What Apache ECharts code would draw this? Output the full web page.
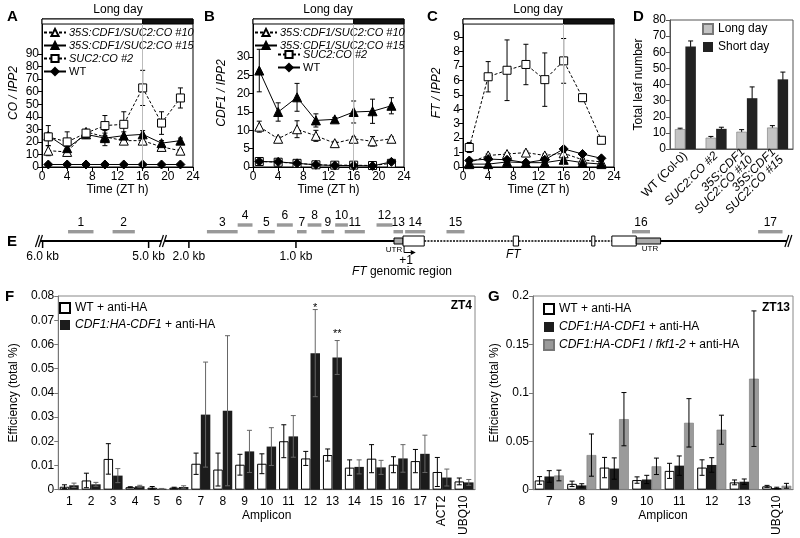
<!DOCTYPE html>
<html>
<head>
<meta charset="utf-8">
<script src="https://cdn.jsdelivr.net/npm/echarts@6/dist/echarts.min.js"></script>
<style>
html, body { margin: 0; padding: 0; background: #fff; }
#chart { width: 800px; height: 538px; }
</style>
</head>
<body>
<div id="chart"></div>
<script>
const FONT = 'Liberation Sans, Arial, sans-serif';

// ---- A-C: time course (ZT h) ----
const times = [1, 4, 7, 10, 13, 16, 19, 22];
const lineNames = ['35S:CDF1/SUC2:CO #10', '35S:CDF1/SUC2:CO #15', 'SUC2:CO #2', 'WT'];

// A: CO / IPP2
const coL10 = [13, 12, 28, 24, 21, 21, 16, 13];
const coL10Err = [4, 2, 2, 3, 2, 2, 2, 1];
const coL15 = [25, 15, 26, 23, 25, 26, 19, 21];
const coL15Err = [8, 3, 3, 6, 3, 3, 2, 2];
const coSuc = [24, 20, 27, 33, 34, 63, 35, 55];
const coSucErr = [3, 8, 2, 8, 10, 14, 9, 8];
const coWT = [2, 2, 2, 2, 2, 2, 2, 2];
const coWTErr = [0.5, 0.5, 0.5, 0.5, 0.5, 0.5, 0.5, 0.5];
const coTicks = [0, 10, 20, 30, 40, 50, 60, 70, 80, 90];

// B: CDF1 / IPP2
const cdfL10 = [11, 7.7, 10.3, 8.5, 6.5, 7.7, 7, 7.7];
const cdfL10Err = [1.5, 0.5, 2.3, 1.5, 0.5, 0.5, 1.3, 0.5];
const cdfL15 = [26.3, 15, 19, 12.7, 13, 15, 15.2, 16.7];
const cdfL15Err = [5.8, 2.5, 3.8, 1.8, 0.5, 3, 3.3, 2.2];
const cdfSuc = [1.5, 1.3, 1.0, 0.6, 0.5, 0.5, 0.4, 1.0];
const cdfSucErr = [0.3, 0.3, 0.3, 0.2, 0.2, 0.2, 0.2, 0.3];
const cdfWT = [1.5, 1.4, 1.0, 0.6, 0.4, 0.4, 0.3, 1.4];
const cdfWTErr = [0.3, 0.3, 0.2, 0.2, 0.2, 0.2, 0.2, 0.3];
const cdfTicks = [0, 5, 10, 15, 20, 25, 30];

// C: FT / IPP2
const ftL10 = [0.3, 0.8, 0.9, 1.0, 0.8, 0.95, 0.5, 0.35];
const ftL10Err = [0.1, 0.1, 0.1, 0.1, 0.1, 0.1, 0.1, 0.1];
const ftL15 = [0.2, 0.2, 0.35, 0.3, 0.3, 0.5, 0.3, 0.2];
const ftL15Err = [0.05, 0.05, 0.05, 0.05, 0.05, 0.05, 0.05, 0.05];
const ftSuc = [1.35, 6.25, 6.7, 7.1, 6.05, 7.35, 4.8, 1.85];
const ftSucErr = [0.35, 1.05, 2.1, 1.4, 1.85, 1.55, 0.25, 0.1];
const ftWT = [0.45, 0.55, 0.5, 0.3, 0.5, 1.25, 0.9, 0.6];
const ftWTErr = [0.1, 0.1, 0.1, 0.1, 0.1, 0.15, 0.1, 0.1];
const ftTicks = [0, 1, 2, 3, 4, 5, 6, 7, 8, 9];

// D: total leaf number
const dCats = ['WT (Col-0)', 'SUC2:CO #2', '35S:CDF1\nSUC2:CO #10', '35S:CDF1\nSUC2:CO #15'];
const ldVals = [12.3, 7, 10.7, 13.3];
const ldErr = [0.6, 0.8, 1.3, 1.2];
const sdVals = [63.5, 12.5, 31.5, 43.2];
const sdErr = [3.5, 1, 7, 4.5];

// E: FT genomic region, positions in drawn kb relative to +1 (upstream part shifted at the break)
const geneLine = [[-3.43, -0.085, 1], [0.2, 1.04, 0], [1.09, 1.78, 0], [1.81, 1.97, 0], [2.43, 3.64, 1]];
const geneBoxes = [[-0.085, 0, 0], [0, 0.2, 1], [1.04, 1.09, 1], [1.78, 1.81, 1], [1.97, 2.2, 1], [2.2, 2.43, 0]];
const geneBreaks = [-3.43, -2.26, 3.64];
const kbTicks = [-3.4, -2.4, -2.02, -1.01];
const kbLabels = ['6.0 kb', '5.0 kb', '2.0 kb', '1.0 kb'];
const ampStart = [-3.16, -2.74, -1.85, -1.56, -1.37, -1.19, -1.0, -0.90, -0.77, -0.64, -0.55, -0.25, -0.09, 0.02, 0.41, 2.16, 3.35];
const ampEnd = [-2.92, -2.53, -1.56, -1.42, -1.21, -1.04, -0.91, -0.77, -0.65, -0.52, -0.36, -0.10, 0, 0.21, 0.58, 2.33, 3.58];
const ampRow = [1, 1, 1, 2, 1, 2, 1, 2, 1, 2, 1, 2, 1, 1, 1, 1, 1];
const eNotes = [
  [-0.085, -0.85, 'UTR', 8],
  [2.33, -0.75, 'UTR', 8],
  [0.03, -1.95, '+1', 12],
  [1.04, -1.4, '{i|FT}', 12],
  [-0.01, -3.1, '{i|FT} genomic region', 12]
];

// F: ChIP ZT4
const fCats = ['1', '2', '3', '4', '5', '6', '7', '8', '9', '10', '11', '12', '13', '14', '15', '16', '17', 'ACT2', 'UBQ10'];
const fWT = [0.0012, 0.0038, 0.0127, 0.001, 0.0008, 0.0008, 0.0107, 0.0083, 0.0103, 0.0107, 0.02, 0.0129, 0.0143, 0.0091, 0.0128, 0.0103, 0.0118, 0.0073, 0.0034];
const fWTErr = [0.0008, 0.003, 0.0063, 0.0002, 0.0005, 0.0002, 0.0044, 0.0068, 0.0043, 0.0041, 0.0068, 0.0029, 0.0025, 0.0032, 0.0058, 0.0033, 0.0048, 0.006, 0.0014];
const fCDF = [0.0018, 0.0022, 0.0058, 0.0014, 0.0004, 0.0011, 0.031, 0.0326, 0.0158, 0.0178, 0.022, 0.0564, 0.0546, 0.0094, 0.0092, 0.0129, 0.0148, 0.005, 0.003];
const fCDFErr = [0.0009, 0.0008, 0.0029, 0.0004, 0.0001, 0.0005, 0.0217, 0.031, 0.0087, 0.0078, 0.0086, 0.018, 0.007, 0.0029, 0.0029, 0.0057, 0.0077, 0.0035, 0.0012];
const fStars = [[11, 0.0752, '*'], [12, 0.0642, '**']];

// G: ChIP ZT13
const gCats = ['7', '8', '9', '10', '11', '12', '13', 'UBQ10'];
const gWT = [0.0095, 0.006, 0.0228, 0.0099, 0.0194, 0.0228, 0.0075, 0.0034];
const gWTErr = [0.004, 0.0028, 0.0105, 0.0033, 0.0078, 0.008, 0.0025, 0.001];
const gCDF = [0.0136, 0.0044, 0.0218, 0.0105, 0.0248, 0.0255, 0.0082, 0.0017];
const gCDFErr = [0.006, 0.0017, 0.011, 0.0043, 0.01, 0.0075, 0.0028, 0.0008];
const gFkf = [0.0146, 0.0357, 0.0728, 0.0241, 0.069, 0.0619, 0.1146, 0.004];
const gFkfErr = [0.0055, 0.0218, 0.0275, 0.0085, 0.025, 0.015, 0.07, 0.0025];

const chart = echarts.init(document.getElementById('chart'));

const lineLook = {
  '35S:CDF1/SUC2:CO #10': { symbol: 'triangle', size: 9, fill: '#fff', dash: [3, 2] },
  '35S:CDF1/SUC2:CO #15': { symbol: 'triangle', size: 9, fill: '#000', dash: 'solid' },
  'SUC2:CO #2': { symbol: 'rect', size: 8, fill: '#fff', dash: [3, 2] },
  'WT': { symbol: 'diamond', size: 9, fill: '#000', dash: 'solid' }
};

function lineSer(g, name, vals) {
  const st = lineLook[name];
  return {
    type: 'line', name, xAxisIndex: g, yAxisIndex: g,
    data: times.map((t, k) => [t, vals[k]]),
    symbol: st.symbol, symbolSize: st.size, showAllSymbol: true,
    itemStyle: { color: st.fill, borderColor: '#000', borderWidth: 1 },
    lineStyle: { color: '#000', width: 1, type: st.dash },
    emphasis: { disabled: true }, z: 3
  };
}

function errSer(xi, yi, data, offset, cap, color) {
  return {
    type: 'custom', xAxisIndex: xi, yAxisIndex: yi, data, silent: true, z: 2,
    renderItem: (params, api) => {
      const lo = api.coord([api.value(0), api.value(1)]);
      const hi = api.coord([api.value(0), api.value(2)]);
      const x = lo[0] + offset;
      const st = { stroke: color, lineWidth: 1 };
      return {
        type: 'group', children: [
          { type: 'line', shape: { x1: x, y1: lo[1], x2: x, y2: hi[1] }, style: st },
          { type: 'line', shape: { x1: x - cap, y1: lo[1], x2: x + cap, y2: lo[1] }, style: st },
          { type: 'line', shape: { x1: x - cap, y1: hi[1], x2: x + cap, y2: hi[1] }, style: st }
        ]
      };
    }
  };
}

const timeErr = (vals, errs) => times.map((t, k) => [t, vals[k] - errs[k], vals[k] + errs[k]]);
const catErr = (vals, errs) => vals.map((v, k) => [k, Math.max(0, v - errs[k]), v + errs[k]]);

const tickFont = { color: '#000', fontSize: 12, fontFamily: FONT };
const nameFont = { color: '#000', fontSize: 12, fontFamily: FONT };
const blackAxis = { lineStyle: { color: '#000', width: 1 } };

// time-course panels
const tc = [
  { g: 0, left: 42, yName: 'CO / IPP2', yGap: 22, max: 117.9, barLo: 113.9, ticks: coTicks, interval: 10,
    vals: [coL10, coL15, coSuc, coWT], errs: [coL10Err, coL15Err, coSucErr, coWTErr] },
  { g: 1, left: 253, yName: 'CDF1 / IPP2', yGap: 25, max: 40.36, barLo: 39.0, ticks: cdfTicks, interval: 5,
    vals: [cdfL10, cdfL15, cdfSuc, cdfWT], errs: [cdfL10Err, cdfL15Err, cdfSucErr, cdfWTErr] },
  { g: 2, left: 463, yName: 'FT / IPP2', yGap: 20, max: 10.25, barLo: 9.9, ticks: ftTicks, interval: 1,
    vals: [ftL10, ftL15, ftSuc, ftWT], errs: [ftL10Err, ftL15Err, ftSucErr, ftWTErr] }
];

const grids = [];
const xAxes = [];
const yAxes = [];
const series = [];

tc.forEach(p => {
  grids.push({ left: p.left, top: 19, width: 151, height: 148, show: true, borderColor: '#000', borderWidth: 1, backgroundColor: 'transparent' });
  xAxes.push({
    gridIndex: p.g, type: 'value', min: 0, max: 24, interval: 4,
    axisLine: blackAxis, axisTick: { length: 4, lineStyle: { color: '#000' } },
    axisLabel: Object.assign({ margin: 4 }, tickFont), splitLine: { show: false },
    name: 'Time (ZT h)', nameLocation: 'middle', nameGap: 17, nameTextStyle: nameFont
  });
  yAxes.push({
    gridIndex: p.g, type: 'value', min: 0, max: p.max, interval: p.interval,
    axisLine: { show: true, lineStyle: { color: '#000' } },
    axisTick: { show: true, length: 4, lineStyle: { color: '#000' }, customValues: p.ticks },
    axisLabel: Object.assign({ margin: 3, customValues: p.ticks, formatter: v => v > p.ticks[p.ticks.length - 1] ? '' : v }, tickFont),
    splitLine: { show: false },
    name: p.yName, nameLocation: 'middle', nameGap: p.yGap,
    nameTextStyle: Object.assign({ fontStyle: 'italic' }, nameFont)
  });
  lineNames.forEach((n, k) => {
    series.push(errSer(p.g, p.g, timeErr(p.vals[k], p.errs[k]), 0, 2.5, '#000'));
  });
  lineNames.forEach((n, k) => {
    const s = lineSer(p.g, n, p.vals[k]);
    if (n === 'WT') {
      s.markArea = {
        silent: true,
        data: [
          [{ coord: [0, p.barLo], itemStyle: { color: '#fff', borderColor: '#000', borderWidth: 1 } }, { coord: [16, p.max] }],
          [{ coord: [16, p.barLo], itemStyle: { color: '#111', borderColor: '#000', borderWidth: 1 } }, { coord: [24, p.max] }]
        ]
      };
      s.markLine = {
        silent: true, symbol: 'none', label: { show: false },
        lineStyle: { color: '#bbb', width: 1, type: 'solid' },
        data: [[{ coord: [16, 0] }, { coord: [16, p.barLo] }]]
      };
    }
    series.push(s);
  });
});

// D
grids.push({ left: 670, top: 20, width: 123, height: 129, show: true, borderColor: '#555', borderWidth: 1, backgroundColor: 'transparent' });
xAxes.push({
  gridIndex: 3, type: 'category', data: dCats,
  axisLine: { lineStyle: { color: '#555' } }, axisTick: { length: 4, lineStyle: { color: '#555' } },
  axisLabel: {
    interval: 0, rotate: 45, margin: 5, color: '#000', fontSize: 12, fontFamily: FONT, lineHeight: 11,
    formatter: v => v.startsWith('WT') ? v : v.split('\n').map(s => '{i|' + s + '}').join('\n'),
    rich: { i: { fontStyle: 'italic', fontSize: 12, fontFamily: FONT, color: '#000', lineHeight: 11 } }
  }
});
yAxes.push({
  gridIndex: 3, type: 'value', min: 0, max: 80, interval: 10,
  axisLine: { show: true, lineStyle: { color: '#555' } }, axisTick: { show: true, length: 4, lineStyle: { color: '#555' } },
  axisLabel: Object.assign({ margin: 4 }, tickFont), splitLine: { show: false },
  name: 'Total leaf number', nameLocation: 'middle', nameGap: 25, nameTextStyle: nameFont
});
series.push({ type: 'bar', name: 'Long day', xAxisIndex: 3, yAxisIndex: 3, data: ldVals, barWidth: 10.5, barGap: '0%',
  itemStyle: { color: '#c4c4c4', borderColor: '#777', borderWidth: 0.6 }, emphasis: { disabled: true } });
series.push({ type: 'bar', name: 'Short day', xAxisIndex: 3, yAxisIndex: 3, data: sdVals, barWidth: 10.5, barGap: '0%',
  itemStyle: { color: '#222' }, emphasis: { disabled: true } });
series.push(errSer(3, 3, catErr(ldVals, ldErr), -5.25, 2.5, '#000'));
series.push(errSer(3, 3, catErr(sdVals, sdErr), 5.25, 2.5, '#000'));

// E (hidden axes: x in drawn kb, y in 10 px rows)
grids.push({ left: 0, top: 211, width: 800, height: 90 });
xAxes.push({ gridIndex: 4, type: 'value', min: -3.802, max: 3.745, show: false });
yAxes.push({ gridIndex: 4, type: 'value', min: -6, max: 3, show: false });
const eBase = { type: 'custom', xAxisIndex: 4, yAxisIndex: 4, silent: true };
series.push(Object.assign({}, eBase, {
  data: geneLine, z: 2,
  renderItem: (params, api) => {
    const a = api.coord([api.value(0), 0]);
    const b = api.coord([api.value(1), 0]);
    const solid = api.value(2) === 1;
    return { type: 'line', shape: { x1: a[0], y1: a[1], x2: b[0], y2: b[1] },
      style: { stroke: '#000', lineWidth: solid ? 2 : 1.3, lineDash: solid ? null : [2, 1.2] } };
  }
}));
series.push(Object.assign({}, eBase, {
  data: geneBoxes, z: 3,
  renderItem: (params, api) => {
    const a = api.coord([api.value(0), 0]);
    const b = api.coord([api.value(1), 0]);
    const exon = api.value(2) === 1;
    const h = exon ? 10 : 6;
    return { type: 'rect', shape: { x: a[0], y: a[1] - h / 2, width: b[0] - a[0], height: h },
      style: { fill: exon ? '#fff' : '#aaa', stroke: '#000', lineWidth: 1 } };
  }
}));
series.push(Object.assign({}, eBase, {
  data: geneBreaks.map(x => [x]), z: 4,
  renderItem: (params, api) => {
    const p = api.coord([api.value(0), 0]);
    const x = p[0], y = p[1];
    return { type: 'group', children: [
      { type: 'polygon', shape: { points: [[x - 4, y + 6], [x, y - 6], [x + 3, y - 6], [x - 1, y + 6]] }, style: { fill: '#fff' } },
      { type: 'line', shape: { x1: x - 4, y1: y + 6, x2: x, y2: y - 6 }, style: { stroke: '#000', lineWidth: 1.2 } },
      { type: 'line', shape: { x1: x - 1, y1: y + 6, x2: x + 3, y2: y - 6 }, style: { stroke: '#000', lineWidth: 1.2 } }
    ] };
  }
}));
series.push(Object.assign({}, eBase, {
  data: kbTicks.map(x => [x]), z: 3,
  renderItem: (params, api) => {
    const p = api.coord([api.value(0), 0]);
    const t = api.coord([api.value(0), -1.6]);
    return { type: 'group', children: [
      { type: 'line', shape: { x1: p[0], y1: p[1], x2: p[0], y2: p[1] + 7 }, style: { stroke: '#000', lineWidth: 1.5 } },
      { type: 'text', x: t[0], y: t[1], style: { text: kbLabels[params.dataIndex], font: '12px ' + FONT, fill: '#000', align: 'center', verticalAlign: 'middle' } }
    ] };
  }
}));
series.push(Object.assign({}, eBase, {
  data: ampStart.map((s, k) => [s, ampEnd[k], ampRow[k]]), z: 3,
  renderItem: (params, api) => {
    const row = api.value(2);
    const yv = row === 2 ? 1.6 : 0.93;
    const a = api.coord([api.value(0), yv]);
    const b = api.coord([api.value(1), yv]);
    return { type: 'group', children: [
      { type: 'rect', shape: { x: a[0], y: a[1] - 1.7, width: b[0] - a[0], height: 3.4 }, style: { fill: '#999' } },
      { type: 'text', x: (a[0] + b[0]) / 2, y: a[1] - 9, style: { text: String(params.dataIndex + 1), font: '12px ' + FONT, fill: '#000', align: 'center', verticalAlign: 'middle' } }
    ] };
  }
}));
series.push(Object.assign({}, eBase, {
  data: eNotes.map(n => [n[0], n[1]]), z: 3,
  renderItem: (params, api) => {
    const n = eNotes[params.dataIndex];
    const p = api.coord([api.value(0), api.value(1)]);
    return { type: 'text', x: p[0], y: p[1], style: { text: n[2], font: n[3] + 'px ' + FONT, fill: '#000', align: 'center', verticalAlign: 'middle',
      rich: { i: { fontStyle: 'italic', fontSize: n[3], fontFamily: FONT, fill: '#000' } } } };
  }
}));
series.push(Object.assign({}, eBase, {
  data: [[0.01, -0.5, -1.15, 0.12]], z: 3,
  renderItem: (params, api) => {
    const a = api.coord([api.value(0), api.value(1)]);
    const b = api.coord([api.value(0), api.value(2)]);
    const c = api.coord([api.value(3), api.value(2)]);
    return { type: 'group', children: [
      { type: 'polyline', shape: { points: [a, b, [c[0] - 3, c[1]]] }, style: { stroke: '#000', lineWidth: 1, fill: null } },
      { type: 'polygon', shape: { points: [[c[0], c[1]], [c[0] - 5, c[1] - 2.5], [c[0] - 5, c[1] + 2.5]] }, style: { fill: '#000' } }
    ] };
  }
}));

// F
const greyAxis = { lineStyle: { color: '#777', width: 1 } };
grids.push({ left: 51, top: 296, width: 424, height: 196, show: true, borderColor: '#888', borderWidth: 1, backgroundColor: 'transparent' });
xAxes.push({
  gridIndex: 5, type: 'category', data: fCats, position: 'bottom',
  axisLine: greyAxis, axisTick: { length: 4, lineStyle: { color: '#777' } },
  axisLabel: Object.assign({ interval: 0, margin: 6, formatter: v => (v === 'ACT2' || v === 'UBQ10') ? '' : v }, tickFont),
  name: 'Amplicon', nameLocation: 'middle', nameGap: 20, nameTextStyle: nameFont
});
xAxes.push({
  gridIndex: 5, type: 'category', data: fCats, position: 'bottom', offset: 0,
  axisLine: { show: false }, axisTick: { show: false },
  axisLabel: Object.assign({ interval: 0, rotate: 90, margin: 6, formatter: v => (v === 'ACT2' || v === 'UBQ10') ? v : '' }, tickFont)
});
const effFmt = v => v === 0 ? '0' : String(+v.toFixed(3));
yAxes.push({
  gridIndex: 5, type: 'value', min: 0, max: 0.08, interval: 0.01,
  axisLine: { show: true, lineStyle: { color: '#777' } }, axisTick: { show: true, length: 4, lineStyle: { color: '#777' } },
  axisLabel: Object.assign({ margin: 4, formatter: effFmt }, tickFont), splitLine: { show: false },
  name: 'Efficiency (total %)', nameLocation: 'middle', nameGap: 33, nameTextStyle: nameFont
});
series.push({ type: 'bar', name: 'WT + anti-HA', xAxisIndex: 5, yAxisIndex: 5, data: fWT, barWidth: 9.5, barGap: '0%',
  itemStyle: { color: '#fff', borderColor: '#000', borderWidth: 1 }, emphasis: { disabled: true } });
series.push({ type: 'bar', name: 'CDF1:HA-CDF1 + anti-HA', xAxisIndex: 5, yAxisIndex: 5, data: fCDF, barWidth: 9.5, barGap: '0%',
  itemStyle: { color: '#1c1c1c' }, emphasis: { disabled: true } });
series.push(Object.assign(errSer(5, 5, catErr(fWT, fWTErr), -4.75, 2.5, '#000'), { z: 3 }));
series.push(Object.assign(errSer(5, 5, catErr(fCDF, fCDFErr), 4.75, 2.5, '#666'), { z: 3 }));
series.push({
  type: 'custom', xAxisIndex: 5, yAxisIndex: 5, silent: true, z: 4,
  data: fStars.map(s => [s[0], s[1]]),
  renderItem: (params, api) => {
    const p = api.coord([api.value(0), api.value(1)]);
    return { type: 'text', x: p[0] + 4.75, y: p[1], style: { text: fStars[params.dataIndex][2], font: '11px ' + FONT, fill: '#000', align: 'center', verticalAlign: 'middle' } };
  }
});

// G
grids.push({ left: 533, top: 296, width: 260, height: 196, show: true, borderColor: '#888', borderWidth: 1, backgroundColor: 'transparent' });
xAxes.push({
  gridIndex: 6, type: 'category', data: gCats, position: 'bottom',
  axisLine: greyAxis, axisTick: { length: 4, lineStyle: { color: '#777' } },
  axisLabel: Object.assign({ interval: 0, margin: 6, formatter: v => v === 'UBQ10' ? '' : v }, tickFont),
  name: 'Amplicon', nameLocation: 'middle', nameGap: 20, nameTextStyle: nameFont
});
xAxes.push({
  gridIndex: 6, type: 'category', data: gCats, position: 'bottom', offset: 0,
  axisLine: { show: false }, axisTick: { show: false },
  axisLabel: Object.assign({ interval: 0, rotate: 90, margin: 6, formatter: v => v === 'UBQ10' ? v : '' }, tickFont)
});
yAxes.push({
  gridIndex: 6, type: 'value', min: 0, max: 0.2, interval: 0.05,
  axisLine: { show: true, lineStyle: { color: '#777' } }, axisTick: { show: true, length: 4, lineStyle: { color: '#777' } },
  axisLabel: Object.assign({ margin: 4, formatter: effFmt }, tickFont), splitLine: { show: false },
  name: 'Efficiency (total %)', nameLocation: 'middle', nameGap: 32, nameTextStyle: nameFont
});
series.push({ type: 'bar', name: 'WT + anti-HA', xAxisIndex: 7, yAxisIndex: 6, data: gWT, barWidth: 9.7, barGap: '0%',
  itemStyle: { color: '#fff', borderColor: '#000', borderWidth: 1 }, emphasis: { disabled: true } });
series.push({ type: 'bar', name: 'CDF1:HA-CDF1 + anti-HA', xAxisIndex: 7, yAxisIndex: 6, data: gCDF, barWidth: 9.7, barGap: '0%',
  itemStyle: { color: '#1c1c1c' }, emphasis: { disabled: true } });
series.push({ type: 'bar', name: 'CDF1:HA-CDF1 / fkf1-2 + anti-HA', xAxisIndex: 7, yAxisIndex: 6, data: gFkf, barWidth: 9.7, barGap: '0%',
  itemStyle: { color: '#9a9a9a', borderColor: '#777', borderWidth: 0.6 }, emphasis: { disabled: true } });
series.push(Object.assign(errSer(7, 6, catErr(gWT, gWTErr), -9.7, 2.5, '#000'), { z: 3 }));
series.push(Object.assign(errSer(7, 6, catErr(gCDF, gCDFErr), 0, 2.5, '#000'), { z: 3 }));
series.push(Object.assign(errSer(7, 6, catErr(gFkf, gFkfErr), 9.7, 2.5, '#000'), { z: 3 }));

// legends
const richItalic = { i: { fontStyle: 'italic', fontSize: 11, fontFamily: FONT, color: '#000', lineHeight: 11 } };
const lineLegendFmt = n => n === 'WT' ? n : '{i|' + n + '}';
const chipLegendFmt = n => n.replace('CDF1:HA-CDF1', '{i|CDF1:HA-CDF1}').replace('fkf1-2', '{i|fkf1-2}');
const lineLegend = (left, top, names) => ({
  left, top, orient: 'vertical', itemWidth: 22, itemHeight: 9, itemGap: 2, padding: 0,
  data: names, formatter: lineLegendFmt, selectedMode: false,
  textStyle: { color: '#000', fontSize: 11, fontFamily: FONT, lineHeight: 9, padding: [0, 0, 0, -2], rich: richItalic }
});
const squareLegend = (left, top, gap, names) => ({
  left, top, orient: 'vertical', icon: 'rect', itemWidth: 10, itemHeight: 10, itemGap: gap, padding: 0, selectedMode: false,
  data: names, formatter: chipLegendFmt,
  textStyle: { color: '#000', fontSize: 12, fontFamily: FONT, rich: { i: { fontStyle: 'italic', fontSize: 12, fontFamily: FONT, color: '#000' } } }
});
const legends = [
  lineLegend(43, 27, lineNames),
  lineLegend(254, 27, lineNames.slice(0, 2)),
  lineLegend(277, 49, lineNames.slice(2)),
  squareLegend(702, 23, 6, ['Long day', 'Short day']),
  squareLegend(59, 302, 5, ['WT + anti-HA', 'CDF1:HA-CDF1 + anti-HA']),
  squareLegend(543, 303, 6, ['WT + anti-HA', 'CDF1:HA-CDF1 + anti-HA', 'CDF1:HA-CDF1 / fkf1-2 + anti-HA'])
];

// panel letters and labels
const letter = (t, x, y) => ({ type: 'text', x, y, style: { text: t, font: 'bold 15px ' + FONT, fill: '#000' } });
const label = (t, x, y, align, bold) => ({ type: 'text', x, y, style: { text: t, font: (bold ? 'bold ' : '') + '12px ' + FONT, fill: '#000', align, verticalAlign: 'middle' } });
const graphics = [
  letter('A', 7, 9), letter('B', 204, 9), letter('C', 427, 9), letter('D', 633, 9),
  letter('E', 7, 234), letter('F', 5, 289), letter('G', 488, 289),
  label('Long day', 118, 10, 'center'), label('Long day', 328, 10, 'center'), label('Long day', 538, 10, 'center'),
  label('ZT4', 472, 306, 'right', true), label('ZT13', 790, 308, 'right', true)
];

chart.setOption({
  animation: false,
  textStyle: { fontFamily: FONT },
  grid: grids,
  xAxis: xAxes,
  yAxis: yAxes,
  legend: legends,
  graphic: graphics,
  series
});
</script>
</body>
</html>
